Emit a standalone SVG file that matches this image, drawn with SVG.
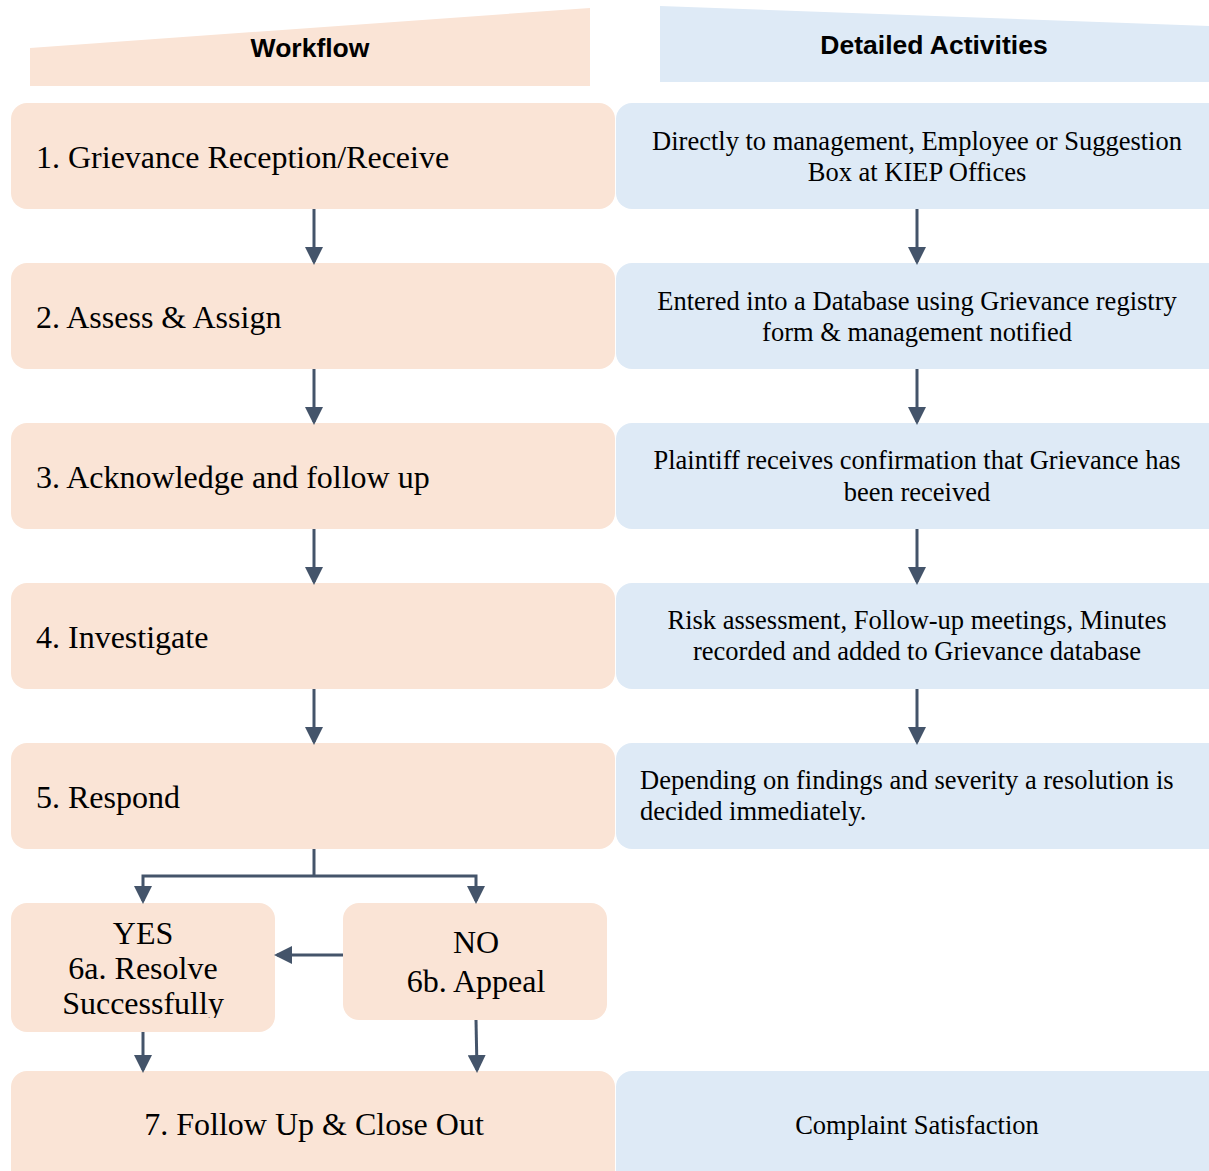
<svg xmlns="http://www.w3.org/2000/svg" width="1209" height="1171" viewBox="0 0 1209 1171">
<style>
.p{fill:#fae4d6}
.b{fill:#deeaf6}
.h{font-family:"Liberation Sans",Arial,sans-serif;font-weight:bold;font-size:26.5px;fill:#000}
.l{font-family:"Liberation Serif","Times New Roman",serif;font-size:32px;fill:#000}
.r{font-family:"Liberation Serif","Times New Roman",serif;font-size:26.5px;fill:#000}
.c{stroke:#44546a;stroke-width:3;fill:none}
</style>
<defs>
<marker id="a" markerWidth="6" markerHeight="6" refX="5" refY="3" orient="auto" markerUnits="strokeWidth">
<path d="M0,0 L6,3 L0,6 z" fill="#44546a"/>
</marker>
<clipPath id="k6a"><rect x="11" y="903" width="264" height="115"/></clipPath>
</defs>
<rect width="1209" height="1171" fill="#fff"/>
<g id="header-workflow">
<polygon class="p" points="30,48 590,8 590,86 30,86"/>
<text class="h" x="310" y="57" text-anchor="middle">Workflow</text>
</g>
<g id="header-activities">
<polygon class="b" points="660,6 1209,26 1209,82 660,82"/>
<text class="h" x="934" y="54" text-anchor="middle">Detailed Activities</text>
</g>
<g id="n1"><rect class="p" x="11" y="103" width="604" height="106" rx="16"/><text class="l" x="36" y="168">1. Grievance Reception/Receive</text></g>
<g id="d1"><rect class="b" x="616" y="103" width="610" height="106" rx="16"/><text class="r" text-anchor="middle"><tspan x="917" y="150">Directly to management, Employee or Suggestion</tspan><tspan x="917" y="181">Box at KIEP Offices</tspan></text></g>
<g id="n2"><rect class="p" x="11" y="263" width="604" height="106" rx="16"/><text class="l" x="36" y="328">2. Assess &amp; Assign</text></g>
<g id="d2"><rect class="b" x="616" y="263" width="610" height="106" rx="16"/><text class="r" text-anchor="middle"><tspan x="917" y="310">Entered into a Database using Grievance registry</tspan><tspan x="917" y="341">form &amp; management notified</tspan></text></g>
<g id="n3"><rect class="p" x="11" y="423" width="604" height="106" rx="16"/><text class="l" x="36" y="488">3. Acknowledge and follow up</text></g>
<g id="d3"><rect class="b" x="616" y="423" width="610" height="106" rx="16"/><text class="r" text-anchor="middle"><tspan x="917" y="469">Plaintiff receives confirmation that Grievance has</tspan><tspan x="917" y="501">been received</tspan></text></g>
<g id="n4"><rect class="p" x="11" y="583" width="604" height="106" rx="16"/><text class="l" x="36" y="648">4. Investigate</text></g>
<g id="d4"><rect class="b" x="616" y="583" width="610" height="106" rx="16"/><text class="r" text-anchor="middle"><tspan x="917" y="629">Risk assessment, Follow-up meetings, Minutes</tspan><tspan x="917" y="660">recorded and added to Grievance database</tspan></text></g>
<g id="n5"><rect class="p" x="11" y="743" width="604" height="106" rx="16"/><text class="l" x="36" y="808">5. Respond</text></g>
<g id="d5"><rect class="b" x="616" y="743" width="610" height="106" rx="16"/><text class="r"><tspan x="640" y="789">Depending on findings and severity a resolution is</tspan><tspan x="640" y="820">decided immediately.</tspan></text></g>
<g id="n6a"><rect class="p" x="11" y="903" width="264" height="129" rx="16"/><text class="l" text-anchor="middle" font-size="30" clip-path="url(#k6a)"><tspan x="143" y="944">YES</tspan><tspan x="143" y="979">6a. Resolve</tspan><tspan x="143" y="1014">Successfully</tspan></text></g>
<g id="n6b"><rect class="p" x="343" y="903" width="264" height="117" rx="16"/><text class="l" text-anchor="middle"><tspan x="476" y="953">NO</tspan><tspan x="476" y="992">6b. Appeal</tspan></text></g>
<g id="n7"><rect class="p" x="11" y="1071" width="604" height="130" rx="16"/><text class="l" x="314" y="1135" text-anchor="middle">7. Follow Up &amp; Close Out</text></g>
<g id="d7"><rect class="b" x="616" y="1071" width="610" height="130" rx="16"/><text class="r" x="917" y="1134" text-anchor="middle">Complaint Satisfaction</text></g>
<g id="connectors">
<line class="c" x1="314" y1="209" x2="314" y2="262" marker-end="url(#a)"/>
<line class="c" x1="314" y1="369" x2="314" y2="422" marker-end="url(#a)"/>
<line class="c" x1="314" y1="529" x2="314" y2="582" marker-end="url(#a)"/>
<line class="c" x1="314" y1="689" x2="314" y2="742" marker-end="url(#a)"/>
<line class="c" x1="917" y1="209" x2="917" y2="262" marker-end="url(#a)"/>
<line class="c" x1="917" y1="369" x2="917" y2="422" marker-end="url(#a)"/>
<line class="c" x1="917" y1="529" x2="917" y2="582" marker-end="url(#a)"/>
<line class="c" x1="917" y1="689" x2="917" y2="742" marker-end="url(#a)"/>
<line class="c" x1="314" y1="849" x2="314" y2="876"/>
<polyline class="c" points="314,876 143,876 143,901" marker-end="url(#a)"/>
<polyline class="c" points="314,876 476,876 476,901" marker-end="url(#a)"/>
<line class="c" x1="343" y1="955" x2="277" y2="955" marker-end="url(#a)"/>
<line class="c" x1="143" y1="1032" x2="143" y2="1070" marker-end="url(#a)"/>
<line class="c" x1="476" y1="1020" x2="477" y2="1070" marker-end="url(#a)"/>
</g>
</svg>
